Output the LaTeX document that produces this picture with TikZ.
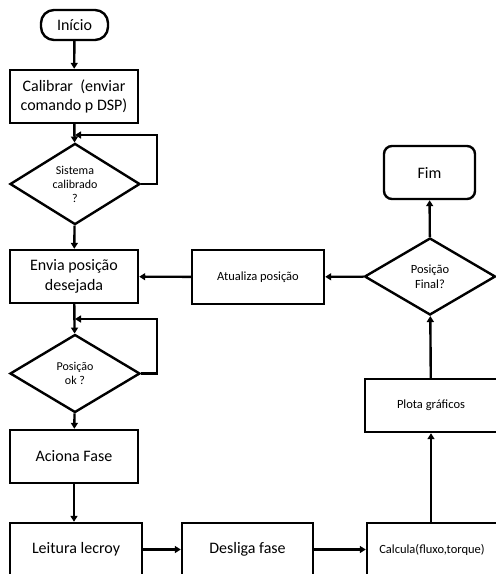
\documentclass[tikz,border=0pt]{standalone}
\usepackage{fontspec}
\setmainfont{Carlito}
\usetikzlibrary{shapes.geometric,arrows.meta}
\tikzset{
  ln/.style={line width=2.4pt},
  arr/.style={ln,-{Triangle[length=6pt,width=7pt]}},
  box/.style={draw,ln,rectangle,minimum width=128pt,minimum height=53pt,inner sep=0pt,align=center,font=\fontsize{16}{19.5}\selectfont},
  sbox/.style={box,font=\fontsize{12.5}{15}\selectfont},
  dia/.style={draw,ln,diamond,minimum width=130pt,minimum height=78pt,inner sep=0pt,align=center,font=\fontsize{12}{14}\selectfont},
}
\begin{document}
\begin{tikzpicture}[x=1pt,y=-1pt]
\clip (0,0) rectangle (496,574);
\useasboundingbox (0,0) rectangle (496,574);
\node[draw,ln,rounded corners=13pt,minimum width=67pt,minimum height=30pt,inner sep=0pt,font=\fontsize{16}{19.5}\selectfont] (inicio) at (74.5,25) {Início};
\node[box] (calib) at (74,96.5) {Calibrar\ \ (enviar\\comando p DSP)};
\node[dia] (d1) at (75,184) {Sistema\\calibrado\\?};
\node[box] (envia) at (74,276.5) {Envia posição\\desejada};
\node[dia] (d2) at (75,373.5) {Posição\\ok ?};
\node[box] (aciona) at (74,456.5) {Aciona Fase};
\node[box,minimum width=132pt] (leitura) at (76,549.5) {Leitura lecroy};
\node[box,minimum width=131pt] (desliga) at (247.5,549.5) {Desliga fase};
\node[sbox,minimum width=130pt] (calc) at (432,549.5) {Calcula(fluxo,torque)};
\node[sbox,minimum width=132pt] (plota) at (431,405.5) {Plota gráficos};
\node[dia,minimum width=131pt,minimum height=77pt,font=\fontsize{12.5}{15}\selectfont] (d3) at (430,276.5) {Posição\\Final?};
\node[box,rounded corners=8pt,minimum width=91pt] (fim) at (429.5,172.5) {Fim};
\node[sbox,minimum width=132pt,minimum height=54pt] (atual) at (258,277) {Atualiza posição};
\coordinate (l1) at (157,135);
\coordinate (l2) at (157,319);
\draw[arr] (inicio) -- (calib);
\draw[arr] (calib) -- (d1);
\draw[arr] (d1.east) -| (l1) -- (d1.north |- l1);
\draw[arr] (d1) -- (envia);
\draw[arr] (envia) -- (d2);
\draw[arr] (d2.east) -| (l2) -- (d2.north |- l2);
\draw[arr] (d2) -- (aciona);
\draw[arr] (aciona.south) -- (aciona.south |- leitura.north);
\draw[arr] (leitura) -- (desliga);
\draw[arr] (desliga) -- (calc);
\draw[arr] (calc.north -| plota) -- (plota);
\draw[arr] (plota) -- (d3);
\draw[arr] (d3) -- (fim);
\draw[arr] (d3) -- (atual);
\draw[arr] (atual) -- (envia);
\end{tikzpicture}
\end{document}
